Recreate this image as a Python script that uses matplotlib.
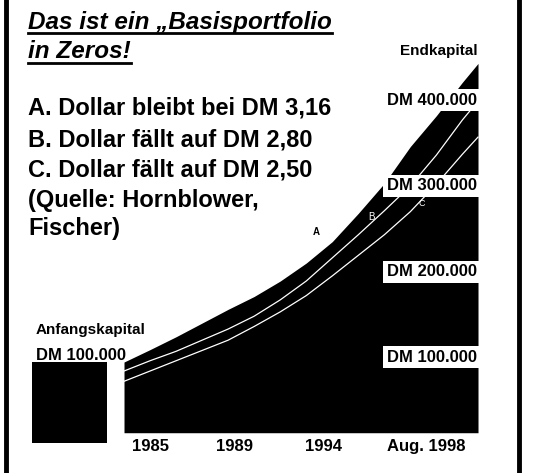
import matplotlib
matplotlib.use("Agg")
import matplotlib.pyplot as plt
from matplotlib.lines import Line2D

plt.rcParams['font.family'] = ['Liberation Sans', 'DejaVu Sans']

# Kapitalentwicklung in Tausend DM
jahre = [1985, 1986, 1987, 1988, 1989, 1990, 1991, 1992, 1993, 1994,
         1995, 1996, 1997, 1998, 1998.6]
kapital_a = [94.5, 109, 124, 140, 156, 171, 189, 210, 235, 268,
             303, 346, 382, 421, 443]
kapital_b = [84, 96, 107, 120, 133, 148, 167, 189, 216, 243,
             271, 300, 336, 377, 399]
kapital_c = [72, 84, 96, 108, 120, 136, 153, 172, 195, 219,
             243, 270, 302, 337, 357]

anfangskapital = 94
dm_stufen = [100, 200, 300, 400]
dm_labels = ["DM 100.000", "DM 200.000", "DM 300.000", "DM 400.000"]

tick_pos = [1986.0, 1989.25, 1992.65, 1996.6]
tick_labels = ["1985", "1989", "1994", "Aug. 1998"]

title_lines = ["Das ist ein „Basisportfolio", "in Zeros!"]
body_lines = ["A. Dollar bleibt bei DM 3,16",
              "B. Dollar fällt auf DM 2,80",
              "C. Dollar fällt auf DM 2,50",
              "(Quelle: Hornblower,",
              "Fischer)"]

W, H = 539, 473
fig = plt.figure(figsize=(W / 100, H / 100), dpi=100)
ax = fig.add_axes([0, 0, 1, 1])
ax.set_xlim(1980.236, 2000.943)
ax.set_ylim(-35, 517)
ax.axis('off')


def fpos(x, y):
    return x / W, 1 - y / H


# Flaeche und Linien
ax.fill_between(jahre, 12, kapital_a, color='black', lw=0)
ax.plot(jahre, kapital_b, color='white', lw=0.9)
ax.plot(jahre, kapital_c, color='white', lw=0.9)

# Anfangskapital-Block
ax.bar(1982.91, anfangskapital, width=2.88, bottom=0, color='black')

# DM-Stufen als weisse Kaesten
for v, lbl in zip(dm_stufen, dm_labels):
    ax.text(1998.55, v, lbl, ha='right', va='center', fontsize=12,
            fontweight='bold', color='black',
            bbox=dict(facecolor='white', edgecolor='none', pad=2.5))

# x-Beschriftung
for tx, lbl in zip(tick_pos, tick_labels):
    ax.text(tx, -3.5, lbl, ha='center', va='center', fontsize=12,
            fontweight='bold')

# Kurvenbeschriftungen
ax.text(1992.4, 246, "A", fontsize=7, fontweight='bold', ha='center', va='center')
ax.text(1994.5, 264, "B", fontsize=7, color='white', ha='center', va='center')
ax.text(1996.45, 280, "C", fontsize=6.5, color='white', ha='center', va='center')

fig.text(*fpos(478, 51), "Endkapital", ha='right', va='center',
         fontsize=11, fontweight='bold')
fig.text(*fpos(36, 330), "Anfangskapital", ha='left', va='center',
         fontsize=11, fontweight='bold')
fig.text(*fpos(36, 355), "DM 100.000", ha='left', va='center',
         fontsize=12, fontweight='bold')

# Titel
titles = []
for y, line in zip([22, 51], title_lines):
    t = fig.text(*fpos(28, y), line, ha='left', va='center', fontsize=17.5,
                 fontweight='bold', fontstyle='italic')
    titles.append((t, y))

for y, line in zip([108, 140, 170, 200, 229], body_lines):
    fig.text(*fpos(28, y), line, ha='left', va='center', fontsize=17,
             fontweight='bold')

# Unterstreichung der Titelzeilen
fig.canvas.draw()
renderer = fig.canvas.get_renderer()
for t, y in titles:
    bb = t.get_window_extent(renderer)
    uy = 1 - (y + 11.5) / H
    fig.add_artist(Line2D([bb.x0 / W, bb.x1 / W], [uy, uy], color='black',
                          lw=2, transform=fig.transFigure))

# Rahmen links und rechts
for x in [6, 519]:
    fig.add_artist(Line2D([x / W, x / W], [0, 1], color='black', lw=3.5,
                          transform=fig.transFigure))

fig.savefig("out.png", dpi=100)
